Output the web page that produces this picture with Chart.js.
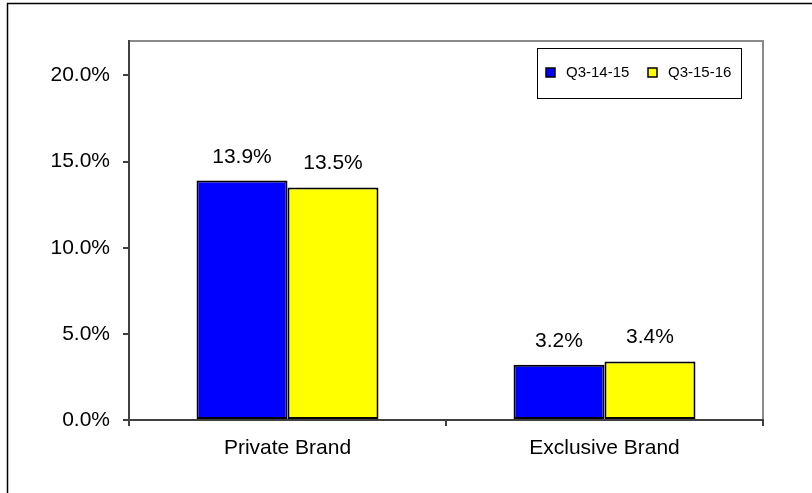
<!DOCTYPE html>
<html><head><meta charset="utf-8">
<script src="https://cdn.jsdelivr.net/npm/chart.js@4/dist/chart.umd.min.js"></script>
<style>html,body{margin:0;padding:0;background:#fff;}#wrap{width:812px;height:493px;position:relative;}</style>
</head><body><div id="wrap"><canvas id="c" width="812" height="493"></canvas></div>
<script>
const categories = ["Private Brand", "Exclusive Brand"];
const seriesNames = ["Q3-14-15", "Q3-15-16"];
const q3_14_15 = [13.9, 3.2];
const q3_15_16 = [13.5, 3.4];
const yTicks = [0, 5, 10, 15, 20];
const colors = ["#0000FF", "#FFFF00"];

const FONT = "'Liberation Sans', Arial, sans-serif";

const framePlugin = {
  id: 'frame',
  beforeDraw(chart) {
    const ctx = chart.ctx, a = chart.chartArea;
    ctx.save();
    ctx.fillStyle = '#fff';
    ctx.fillRect(0, 0, chart.width, chart.height);
    ctx.strokeStyle = '#000';
    ctx.lineWidth = 1.5;
    ctx.beginPath();
    ctx.moveTo(7.5, chart.height + 5);
    ctx.lineTo(7.5, 3.5);
    ctx.lineTo(chart.width + 5, 3.5);
    ctx.stroke();
    ctx.strokeStyle = '#8a8a8a';
    ctx.lineWidth = 2;
    ctx.beginPath();
    ctx.moveTo(a.left, a.top);
    ctx.lineTo(a.right, a.top);
    ctx.lineTo(a.right, a.bottom);
    ctx.stroke();
    ctx.restore();
  },
  afterDraw(chart) {
    const ctx = chart.ctx;
    ctx.save();
    ctx.font = "21px " + FONT;
    ctx.fillStyle = '#000';
    ctx.textAlign = 'center';
    ctx.textBaseline = 'alphabetic';
    chart.data.datasets.forEach((ds, i) => {
      chart.getDatasetMeta(i).data.forEach((bar, j) => {
        ctx.fillText(ds.data[j].toFixed(1) + '%', bar.x, bar.y - 18);
      });
    });
    const lx = 537, ly = 48, lw = 204, lh = 50;
    ctx.fillStyle = '#fff';
    ctx.fillRect(lx, ly, lw, lh);
    ctx.strokeStyle = '#000';
    ctx.lineWidth = 1;
    ctx.strokeRect(lx + 0.5, ly + 0.5, lw, lh);
    ctx.font = "15px " + FONT;
    ctx.textAlign = 'left';
    ctx.textBaseline = 'middle';
    const pos = [546, 648];
    chart.data.datasets.forEach((ds, i) => {
      const x = pos[i];
      ctx.fillStyle = ds.backgroundColor;
      ctx.fillRect(x, 68, 9, 9);
      ctx.strokeStyle = '#000';
      ctx.lineWidth = 1.5;
      ctx.strokeRect(x, 68, 9, 9);
      ctx.fillStyle = '#000';
      ctx.fillText(ds.label, x + 20, 73);
    });
    ctx.restore();
  }
};

new Chart(document.getElementById('c'), {
  type: 'bar',
  data: {
    labels: categories,
    datasets: [
      { label: seriesNames[0], data: q3_14_15, backgroundColor: colors[0], borderColor: '#000', borderWidth: 2, borderSkipped: false },
      { label: seriesNames[1], data: q3_15_16, backgroundColor: colors[1], borderColor: '#000', borderWidth: 2, borderSkipped: false }
    ]
  },
  options: {
    responsive: false,
    animation: false,
    layout: { padding: { top: 41, right: 49, left: 0, bottom: 0 } },
    datasets: { bar: { categoryPercentage: 0.574, barPercentage: 1.0 } },
    plugins: { legend: { display: false }, tooltip: { enabled: false } },
    scales: {
      x: {
        grid: { display: true, drawOnChartArea: false, offset: true, tickLength: 6, color: '#404040', lineWidth: 2 },
        border: { display: true, color: '#404040', width: 2 },
        ticks: { font: { family: FONT, size: 21 }, color: '#000', padding: 10 },
        afterFit(s) { s.height = 73; }
      },
      y: {
        min: 0, max: 22,
        afterBuildTicks(s) { s.ticks = yTicks.map(v => ({ value: v })); },
        grid: { display: true, drawOnChartArea: false, tickLength: 6, color: '#404040', lineWidth: 2 },
        border: { display: true, color: '#404040', width: 2 },
        ticks: { font: { family: FONT, size: 21 }, color: '#000', padding: 13, callback: v => Number(v).toFixed(1) + '%' },
        afterFit(s) { s.width = 129; }
      }
    }
  },
  plugins: [framePlugin]
});
</script></body></html>
